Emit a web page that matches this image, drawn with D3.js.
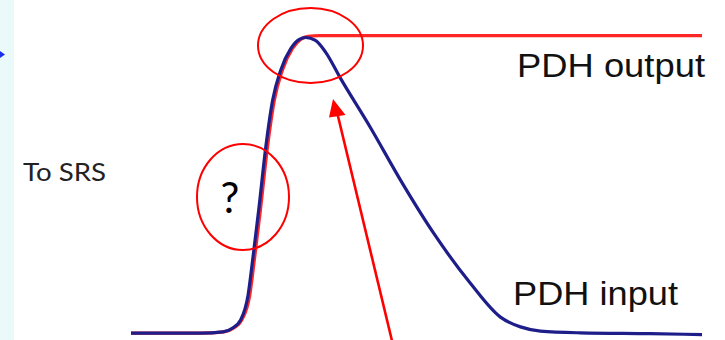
<!DOCTYPE html>
<html><head><meta charset="utf-8">
<script src="https://cdn.jsdelivr.net/npm/d3@7"></script>
<style>html,body{margin:0;padding:0;background:#fff;overflow:hidden}svg{display:block}</style>
</head><body>
<svg id="c" width="725" height="340"></svg>
<script>
// time axis (arbitrary units) and normalised signal level
const inputTime  = [0, 12.2, 16.1, 17.8, 19.2, 20.5, 21.3, 22.4, 23.6, 24.8, 26.2, 28.0, 29.4, 30.6, 32.3, 34.1, 36.7, 42.0, 47.2, 53.0, 59.4, 64.7, 68.2, 71.7, 78.7, 90.9, 100];
const inputLevel = [0.003, 0.003, 0.007, 0.02, 0.047, 0.131, 0.249, 0.424, 0.63, 0.788, 0.889, 0.963, 0.993, 1.0, 0.99, 0.95, 0.862, 0.694, 0.519, 0.34, 0.172, 0.057, 0.024, 0.01, 0.004, 0.001, -0.002];
const outputTime  = [0, 12.2, 16.3, 18.0, 19.4, 20.8, 21.6, 22.7, 23.9, 25.1, 26.5, 28.3, 29.7, 31.0, 33.0, 60.0, 100];
const outputLevel = [0.003, 0.003, 0.007, 0.02, 0.047, 0.131, 0.249, 0.424, 0.63, 0.788, 0.889, 0.963, 0.993, 1.004, 1.006, 1.006, 1.006];
const seriesLabels = ["PDH output", "PDH input"];
const sideLabel = "To SRS";
const questionLabel = "?";

const svg = d3.select("#c");
const x = d3.scaleLinear().domain([0, 100]).range([131, 702]);
const y = d3.scaleLinear().domain([0, 1]).range([334, 37.5]);

// left pale panel
svg.append("rect").attr("x", 0).attr("y", 0).attr("width", 14).attr("height", 340).attr("fill", "#eaf9f9");
svg.append("path").attr("d", "M0,51 L5,54.5 L0,58 Z").attr("fill", "#1a2ef0");

const line = d3.line().x(d => x(d[0])).y(d => y(d[1])).curve(d3.curveMonotoneX);
const outData = outputTime.map((t, i) => [t, outputLevel[i]]);
const inData = inputTime.map((t, i) => [t, inputLevel[i]]);

svg.append("path").datum(outData).attr("d", line).attr("fill", "none")
  .attr("stroke", "#ff2626").attr("stroke-width", 3.2).attr("stroke-linejoin", "round");
svg.append("path").datum(inData).attr("d", line).attr("fill", "none")
  .attr("stroke", "#1e1e8a").attr("stroke-width", 3.2).attr("stroke-linejoin", "round");

// labels
svg.append("text").attr("x", 517).attr("y", 77).text(seriesLabels[0])
  .attr("font-family", "Liberation Sans, Arial, sans-serif").attr("font-size", 33)
  .attr("fill", "#111").attr("textLength", 188).attr("lengthAdjust", "spacingAndGlyphs");
svg.append("text").attr("x", 513).attr("y", 305).text(seriesLabels[1])
  .attr("font-family", "Liberation Sans, Arial, sans-serif").attr("font-size", 33)
  .attr("fill", "#111").attr("textLength", 165).attr("lengthAdjust", "spacingAndGlyphs");
svg.append("text").attr("x", 23).attr("y", 181).text(sideLabel)
  .attr("font-family", "Lato, Open Sans, sans-serif").attr("font-size", 25)
  .attr("fill", "#222").attr("textLength", 83).attr("lengthAdjust", "spacingAndGlyphs");

// annotations
svg.append("ellipse").attr("cx", 310.5).attr("cy", 45.5).attr("rx", 52.5).attr("ry", 37.5)
  .attr("fill", "none").attr("stroke", "#ff0000").attr("stroke-width", 2);
svg.append("ellipse").attr("cx", 243).attr("cy", 197).attr("rx", 46).attr("ry", 53)
  .attr("fill", "none").attr("stroke", "#ff0000").attr("stroke-width", 2);
svg.append("text").attr("x", 230).attr("y", 213).attr("text-anchor", "middle").text(questionLabel)
  .attr("font-family", "Lato, sans-serif").attr("font-size", 42).attr("fill", "#000");

// arrow
svg.append("line").attr("x1", 393).attr("y1", 345).attr("x2", 337).attr("y2", 112)
  .attr("stroke", "#ff0000").attr("stroke-width", 2.6);
svg.append("path").attr("d", "M333,99 L345.5,115 L329,117.5 Z").attr("fill", "#ff0000");
</script>
</body></html>
